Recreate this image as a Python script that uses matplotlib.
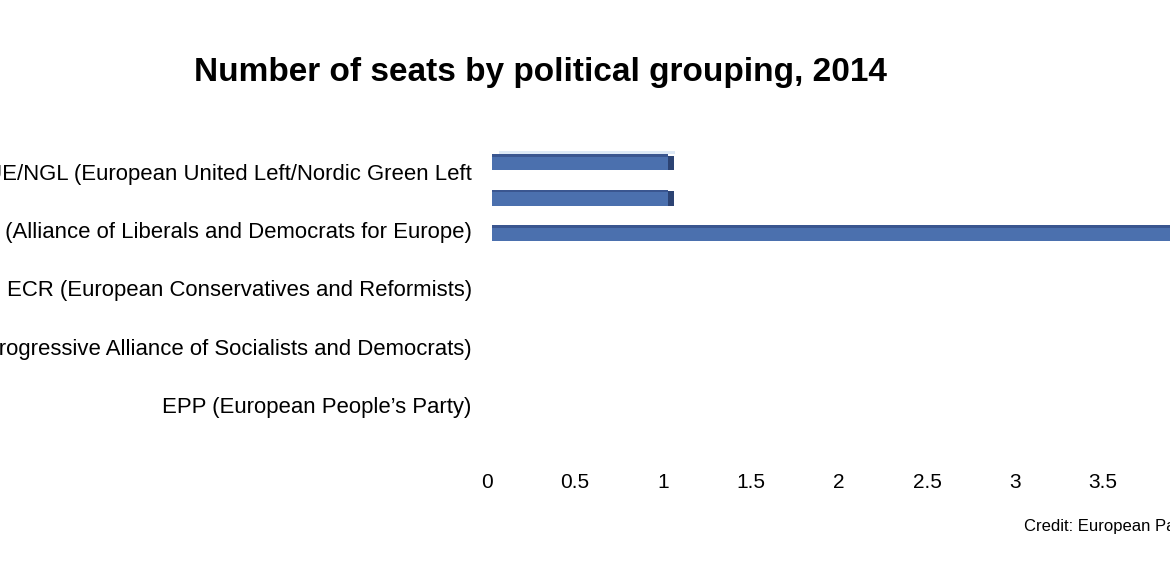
import matplotlib
matplotlib.use("Agg")
import matplotlib.pyplot as plt

############### Data ###############

# category labels (bottom to top)
groups = ["EPP (European People\u2019s Party)",
          "S&D (Progressive Alliance of Socialists and Democrats)",
          "ECR (European Conservatives and Reformists)",
          "ALDE (Alliance of Liberals and Democrats for Europe)",
          "GUE/NGL (European United Left/Nordic Green Left"]

# bar rows as drawn (bottom to top): ALDE, unlabeled, GUE/NGL
bar_rows = ["ALDE", "", "GUE/NGL"]
bar_values = [4, 1, 1]

xticks = [0, 0.5, 1, 1.5, 2, 2.5, 3, 3.5]

title = "Number of seats by political grouping, 2014"
credit = "Credit: European Parliament"

face = "#4b70ae"
edge = "#3a5690"
side = "#2c4373"

############### Plot ###############

plt.rcParams["font.family"] = ["Liberation Sans", "DejaVu Sans"]

fig = plt.figure(figsize=(11.7, 5.66), dpi=100)
ax = fig.add_axes([487 / 1170, 106 / 566, 1 - 487 / 1170, 330 / 566])

ax.set_yticks(range(len(groups)))
ax.set_yticklabels(groups, fontsize=15.9)
ax.set_ylim(-0.95, 4.72)
ax.set_xlim(0, 3.88)
ax.set_xticks(xticks)
ax.set_xticklabels([f"{t:g}" for t in xticks], fontsize=15)
ax.tick_params(length=0, axis="y", pad=11)
ax.tick_params(length=0, axis="x", pad=9)
for s in ax.spines.values():
    s.set_visible(False)

# bars on a twin axis so they keep their own row spacing
ax2 = ax.twinx()
ax2.set_ylim(-6.366, 2.93)
pos = list(range(len(bar_rows)))
off = 0.03  # bars sit a little right of zero in the original
ax2.barh(pos, bar_values, left=off, height=0.42, color=face, edgecolor="none", zorder=2)
# thin dark top edge
ax2.barh([p + 0.21 for p in pos], bar_values, left=off, height=0.06, color=edge, zorder=3)
# shaded right side for the 3d look
ax2.barh(pos, [0.035] * len(pos), left=[v + off for v in bar_values], height=0.42,
         color=side, zorder=2)
# faint highlight above the top bar
ax2.barh([pos[-1] + 0.3], [bar_values[-1]], left=off + 0.04, height=0.1,
         color="#dde9f6", zorder=1)
ax2.set_yticks([])
for s in ax2.spines.values():
    s.set_visible(False)

fig.text(540 / 1170, 1 - 72 / 566, title, fontsize=24, fontweight="bold",
         ha="center", va="center")
fig.text(1024 / 1170, 1 - 527 / 566, credit, fontsize=12,
         family=["Liberation Sans Narrow", "Liberation Sans"],
         ha="left", va="center")

fig.savefig("out.png", dpi=100)
